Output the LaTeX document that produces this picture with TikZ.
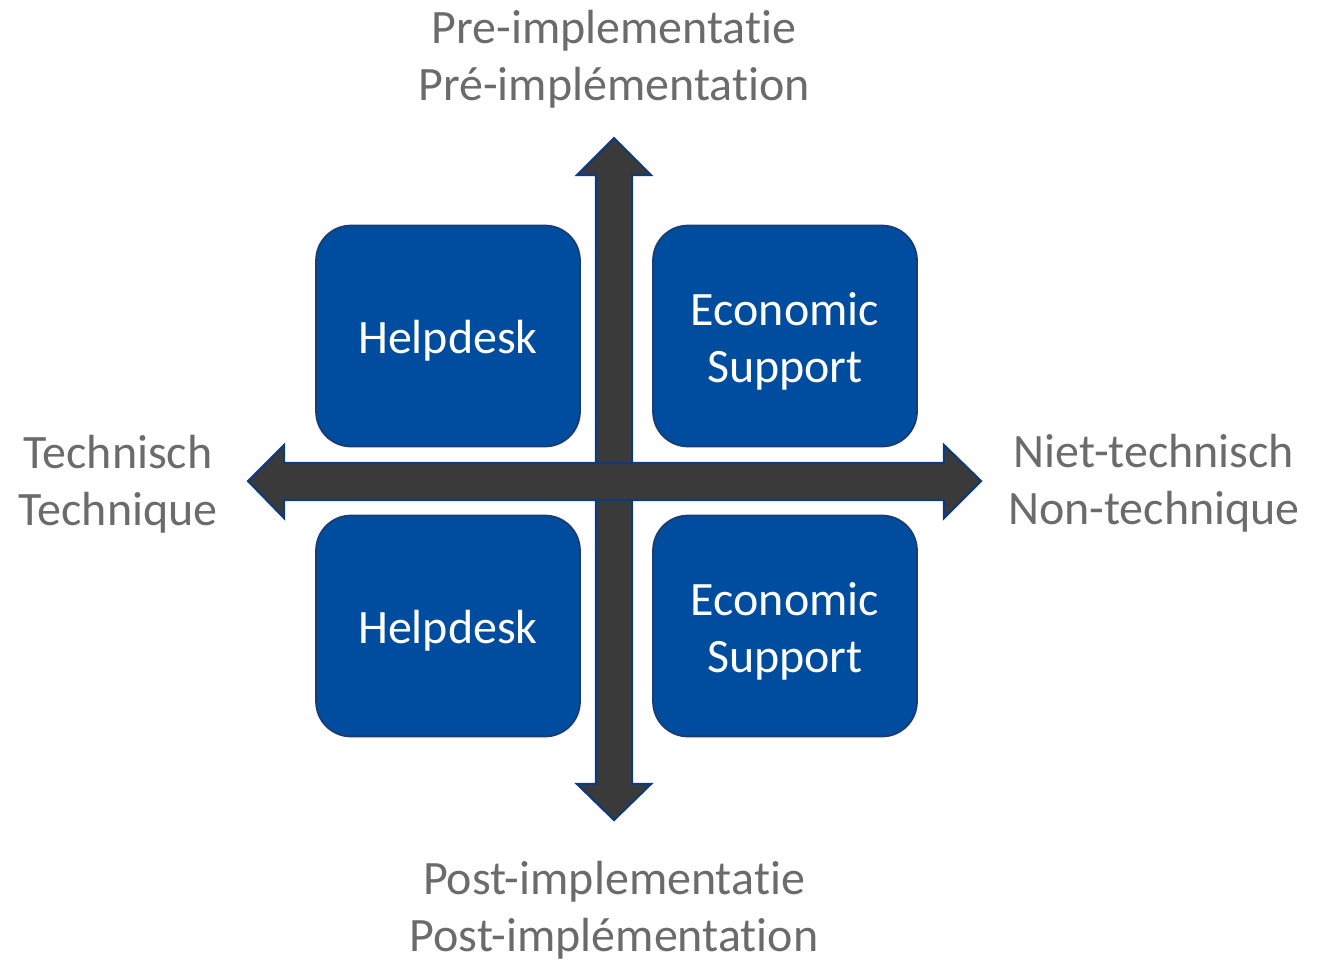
\documentclass[tikz,border=0pt]{standalone}
\usepackage{fontspec}
\setmainfont{Carlito}[Ligatures=NoCommon]
\definecolor{boxblue}{HTML}{004C9E}
\definecolor{boxedge}{HTML}{1B3C73}
\definecolor{axisgray}{HTML}{3A3A3A}
\definecolor{axisedge}{HTML}{0D3B7C}
\definecolor{labelgray}{HTML}{6B6B6B}
\newcommand{\qline}[1]{\raisebox{-0.1cm}[\height][\depth]{#1}}
\begin{document}
\begin{tikzpicture}[x=0.02cm,y=-0.02cm]
\tikzstyle{quadrant} = [rectangle, rounded corners=0.7cm, minimum width=5.28cm, minimum height=4.42cm, text centered, align=center, draw=boxedge, line width=1pt, fill=boxblue, text=white, font=\fontsize{27.3}{32.5}\selectfont]
\tikzstyle{axislabel} = [align=center, text=labelgray, font=\fontsize{27.3}{32.5}\selectfont]
\tikzstyle{axis} = [fill=axisgray, draw=axisedge, line width=1.2pt, line join=miter]

\useasboundingbox (0,0) rectangle (1327,961);

%axes
\draw [axis] (614,138) -- (651,175) -- (632,175) -- (632,784) -- (651,784) -- (614,820)
  -- (577,784) -- (596,784) -- (596,175) -- (577,175) -- cycle;
\draw [axis] (248,481) -- (284,445) -- (284,463) -- (944,463) -- (944,445) -- (981,481)
  -- (944,518) -- (944,500) -- (284,500) -- (284,518) -- cycle;

%node
\node (HA) [quadrant] at (448,336) {\qline{Helpdesk}};
\node (EA) [quadrant] at (785,336) {\qline{Economic}\\\qline{Support}};
\node (HB) [quadrant] at (448,626) {\qline{Helpdesk}};
\node (EB) [quadrant] at (785,626) {\qline{Economic}\\\qline{Support}};

%labels
\node (PRE) [axislabel] at (614,59) {Pre-implementatie\\Pré-implémentation};
\node (POST) [axislabel] at (614,910) {Post-implementatie\\Post-implémentation};
\node (TECH) [axislabel] at (118,484) {Technisch\\Technique};
\node (NTECH) [axislabel] at (1154,483) {Niet-technisch\\Non-technique};
\end{tikzpicture}
\end{document}
